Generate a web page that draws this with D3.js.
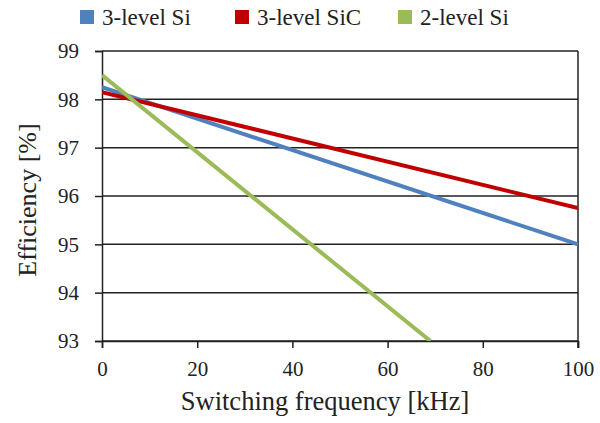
<!DOCTYPE html>
<html>
<head>
<meta charset="utf-8">
<script src="https://cdn.jsdelivr.net/npm/d3@7"></script>
</head>
<body style="margin:0; background:#fff">
<svg id="chart" width="600" height="423"></svg>
<script>
// series (frequency in kHz, efficiency in %)
var freqs = [0, 100];
var siValues = [98.25, 95.0];
var sicValues = [98.15, 95.75];
var twoLevelFreqs = [0, 69];
var twoLevelValues = [98.5, 93.0];
var xTicks = [0, 20, 40, 60, 80, 100];
var yTicks = [93, 94, 95, 96, 97, 98, 99];
var seriesNames = ['3-level Si', '3-level SiC', '2-level Si'];
var seriesColors = ['#4F81BD', '#C00000', '#9BBB59'];

var serif = "'Liberation Serif'";
var svg = d3.select('#chart');
var margin = { top: 51, right: 22, bottom: 82, left: 102 },
    width = 600 - margin.left - margin.right,
    height = 423 - margin.top - margin.bottom;

var x = d3.scaleLinear().domain([0, 100]).range([0, width]);
var y = d3.scaleLinear().domain([93, 99]).range([height, 0]);

var g = svg.append('g').attr('transform', 'translate(' + margin.left + ',' + margin.top + ')');

// horizontal gridlines
g.append('g')
    .selectAll('line')
    .data(yTicks)
    .join('line')
    .attr('x1', 0).attr('x2', width)
    .attr('y1', d => y(d)).attr('y2', d => y(d))
    .attr('stroke', '#222').attr('stroke-width', 1.5);

// right border
g.append('line')
    .attr('x1', width).attr('x2', width)
    .attr('y1', 0).attr('y2', height + 7)
    .attr('stroke', '#222').attr('stroke-width', 1.5);

// axes
var yAxis = g.append('g')
    .call(d3.axisLeft(y).tickValues(yTicks).tickSize(7).tickPadding(16).tickFormat(d3.format('d')));
var xAxis = g.append('g')
    .attr('transform', 'translate(0,' + height + ')')
    .call(d3.axisBottom(x).tickValues(xTicks).tickSize(7).tickPadding(13).tickFormat(d3.format('d')));

[yAxis, xAxis].forEach(a => {
    a.select('.domain').attr('stroke', '#222').attr('stroke-width', 1.5);
    a.selectAll('.tick line').attr('stroke', '#222').attr('stroke-width', 1.5);
    a.selectAll('text')
        .style('font-family', serif)
        .style('font-size', '21px')
        .attr('fill', '#222');
});

// clip for series going past the y range
svg.append('clipPath').attr('id', 'plotClip')
    .append('rect').attr('width', width).attr('height', height);

var line = d3.line().x(d => x(d[0])).y(d => y(d[1]));
var series = [
    d3.zip(freqs, siValues),
    d3.zip(freqs, sicValues),
    d3.zip(twoLevelFreqs, twoLevelValues)
];

g.append('g')
    .attr('clip-path', 'url(#plotClip)')
    .selectAll('path')
    .data(series)
    .join('path')
    .attr('d', line)
    .attr('fill', 'none')
    .attr('stroke', (d, i) => seriesColors[i])
    .attr('stroke-width', 4);

// axis titles
svg.append('text')
    .attr('x', 325)
    .attr('y', 410)
    .attr('text-anchor', 'middle')
    .attr('fill', '#222')
    .style('font-family', serif)
    .style('font-size', '26.5px')
    .text('Switching frequency [kHz]');

svg.append('text')
    .attr('transform', 'translate(36,' + (margin.top + height / 2 + 4) + ') rotate(-90)')
    .attr('text-anchor', 'middle')
    .attr('fill', '#222')
    .style('font-family', serif)
    .style('font-size', '26px')
    .text('Efficiency [%]');

// legend
var legendX = [80, 235, 398];
var legend = svg.append('g')
    .selectAll('g')
    .data(seriesNames)
    .join('g')
    .attr('transform', (d, i) => 'translate(' + legendX[i] + ',10)');

legend.append('rect')
    .attr('width', 14).attr('height', 14)
    .attr('fill', (d, i) => seriesColors[i]);

legend.append('text')
    .attr('x', 22).attr('y', 15)
    .attr('fill', '#222')
    .style('font-family', serif)
    .style('font-size', '23px')
    .text(d => d);
</script>
</body>
</html>
